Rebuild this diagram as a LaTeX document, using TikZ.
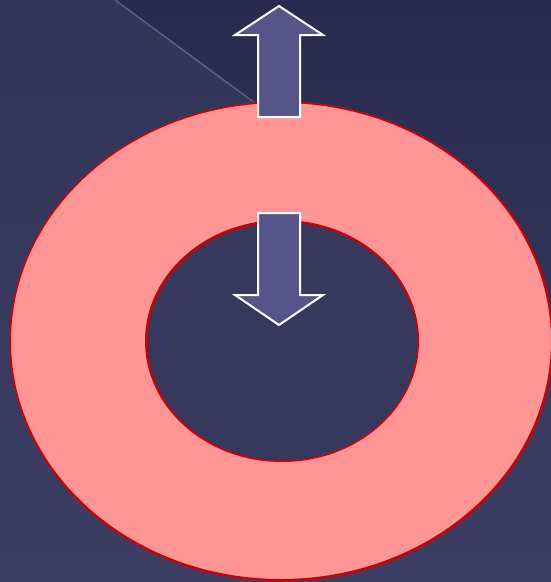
\documentclass[tikz,border=0pt]{standalone}
\definecolor{bgtop}{HTML}{323556}
\definecolor{bgbot}{HTML}{3C3E64}
\definecolor{dktop}{HTML}{282B4E}
\definecolor{dkbot}{HTML}{323558}
\definecolor{ringfill}{HTML}{FF9595}
\definecolor{ringline}{HTML}{CC0000}
\definecolor{arrowfill}{HTML}{55558A}
\definecolor{diagline}{HTML}{5C5E7C}
\tikzset{
  ring/.style={fill=ringfill, draw=ringline, line width=2pt},
  hole/.style={fill=bgtop!55!bgbot, draw=ringline, line width=2pt},
  blockarrow/.style={fill=arrowfill, draw=white, line width=2pt, line join=miter}
}
\begin{document}
\begin{tikzpicture}[x=1pt,y=-1pt]
\useasboundingbox (0,0) rectangle (551,582);
% background
\shade[top color=bgtop, bottom color=bgbot] (0,0) rectangle (551,582);
\shade[top color=dktop, bottom color=dkbot] (115,0) -- (551,0) -- (551,321) -- cycle;
\draw[diagline, line width=1.5pt] (115,0) -- (551,321);
% ring
\draw[ring] (281,341) ellipse [x radius=271, y radius=239];
\draw[hole] (282,341) ellipse [x radius=136, y radius=120];
% arrows
\draw[blockarrow] (258,117) -- (258,35) -- (235,35) -- (279,6) -- (323,35) -- (300,35) -- (300,117) -- cycle;
\draw[blockarrow] (258,213) -- (258,295) -- (235,295) -- (279,325) -- (323,295) -- (300,295) -- (300,213) -- cycle;
\end{tikzpicture}
\end{document}
